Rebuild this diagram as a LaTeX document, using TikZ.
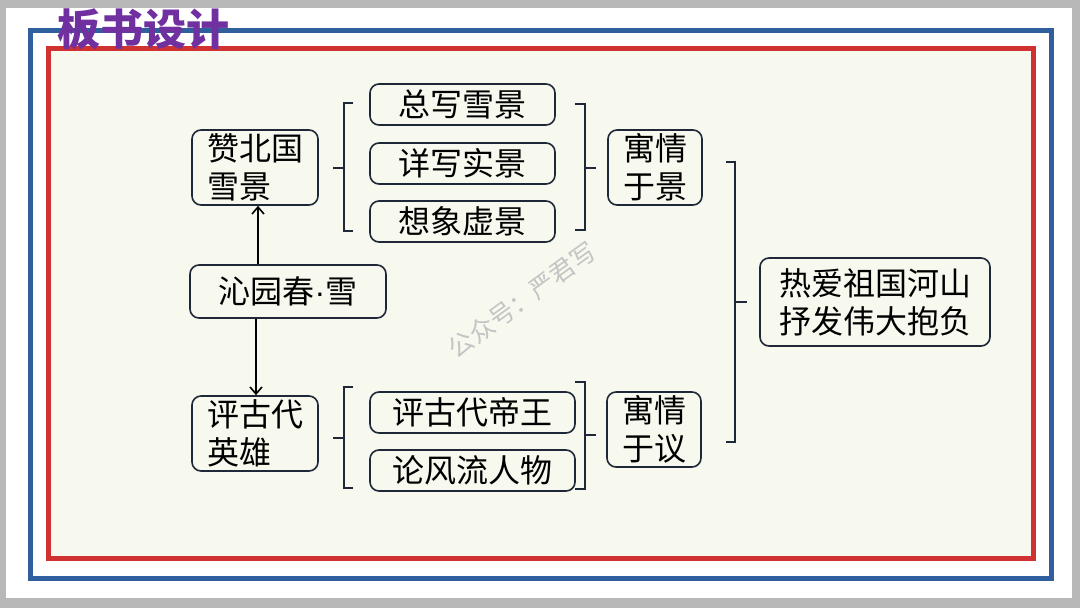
\documentclass[tikz,border=0pt]{standalone}
\usepackage{fontspec}
\newfontfamily\cjk{Noto Sans CJK SC}
\newfontfamily\latinf{Liberation Sans}
\usetikzlibrary{arrows.meta}
\definecolor{pagegray}{HTML}{B8B8B8}
\definecolor{cream}{HTML}{F7F8EE}
\definecolor{frameblue}{HTML}{2F5F9C}
\definecolor{framered}{HTML}{D03232}
\definecolor{titlepurple}{HTML}{7030A0}
\definecolor{ink}{HTML}{1E2838}
\definecolor{wmgray}{HTML}{C4C4C4}
\tikzset{
  box/.style={draw=ink, line width=1.6pt, rounded corners=9pt, fill=cream,
    font=\cjk\fontsize{32}{38}\selectfont, text=black, inner sep=0pt, anchor=center},
  twoline/.style={box, minimum width=126pt, minimum height=75pt, align=left},
  brk/.style={draw=ink, line width=1.6pt},
  arr/.style={draw=black, line width=1.6pt, -{Straight Barb[length=7pt,width=12pt,line width=1.6pt]}}
}
\begin{document}
\begin{tikzpicture}[x=1pt,y=-1pt]
\useasboundingbox (0,0) rectangle (1080,608);
% page
\fill[pagegray] (0,0) rectangle (1080,608);
\fill[white] (6,8) rectangle (1072,598);
\draw[frameblue, line width=5pt] (30,30) rectangle (1051,578);
\draw[framered, line width=5pt, fill=cream] (48,48) rectangle (1033,558);
% title
\node[font=\cjk\bfseries\fontsize{43}{43}\selectfont, text=titlepurple, inner sep=0pt] (title) at (143,29) {板书设计};
% watermark
\node[font=\cjk\fontsize{25}{25}\selectfont, text=wmgray, rotate=36, inner sep=0pt] (wm) at (522,300) {公众号：严君写};
% nodes
\node[twoline] (zan) at (255,167.5) {赞北国\\雪景};
\node[box, minimum width=196pt, minimum height=53pt] (qin) at (288,291.5) {沁园春{\latinf\fontsize{32}{38}\selectfont ·}雪};
\node[twoline] (ping) at (255,433.5) {评古代\\英雄};
\node[box, minimum width=185pt, minimum height=41pt] (z1) at (462.5,104.5) {总写雪景};
\node[box, minimum width=185pt, minimum height=41pt] (z2) at (462.5,163.5) {详写实景};
\node[box, minimum width=185pt, minimum height=41pt] (z3) at (462.5,221.5) {想象虚景};
\node[box, minimum width=205pt, minimum height=41pt] (p1) at (472.5,412.5) {评古代帝王};
\node[box, minimum width=205pt, minimum height=41pt] (p2) at (472.5,470.5) {论风流人物};
\node[box, minimum width=94pt, minimum height=75pt, align=center] (yq1) at (655,167.5) {寓情\\于景};
\node[box, minimum width=94pt, minimum height=75pt, align=center] (yq2) at (654,429.5) {寓情\\于议};
\node[box, minimum width=230pt, minimum height=88pt, align=center] (big) at (875,302) {热爱祖国河山\\抒发伟大抱负};
% arrows
\draw[arr] (qin.north -| 258,0) -- (zan.south -| 258,0);
\draw[arr] (qin.south -| 256,0) -- (ping.north -| 256,0);
% brackets
\draw[brk] (353,103) -- (344,103) -- (344,231) -- (353,231);
\draw[brk] (344,168) -- (333,168);
\draw[brk] (353,387) -- (344,387) -- (344,488) -- (353,488);
\draw[brk] (344,438) -- (333,438);
\draw[brk] (575,104) -- (585,104) -- (585,230) -- (575,230);
\draw[brk] (585,168) -- (596,168);
\draw[brk] (575,382) -- (585,382) -- (585,489) -- (575,489);
\draw[brk] (585,435) -- (596,435);
\draw[brk] (726,162) -- (735,162) -- (735,442) -- (726,442);
\draw[brk] (735,302) -- (747,302);
\end{tikzpicture}
\end{document}
